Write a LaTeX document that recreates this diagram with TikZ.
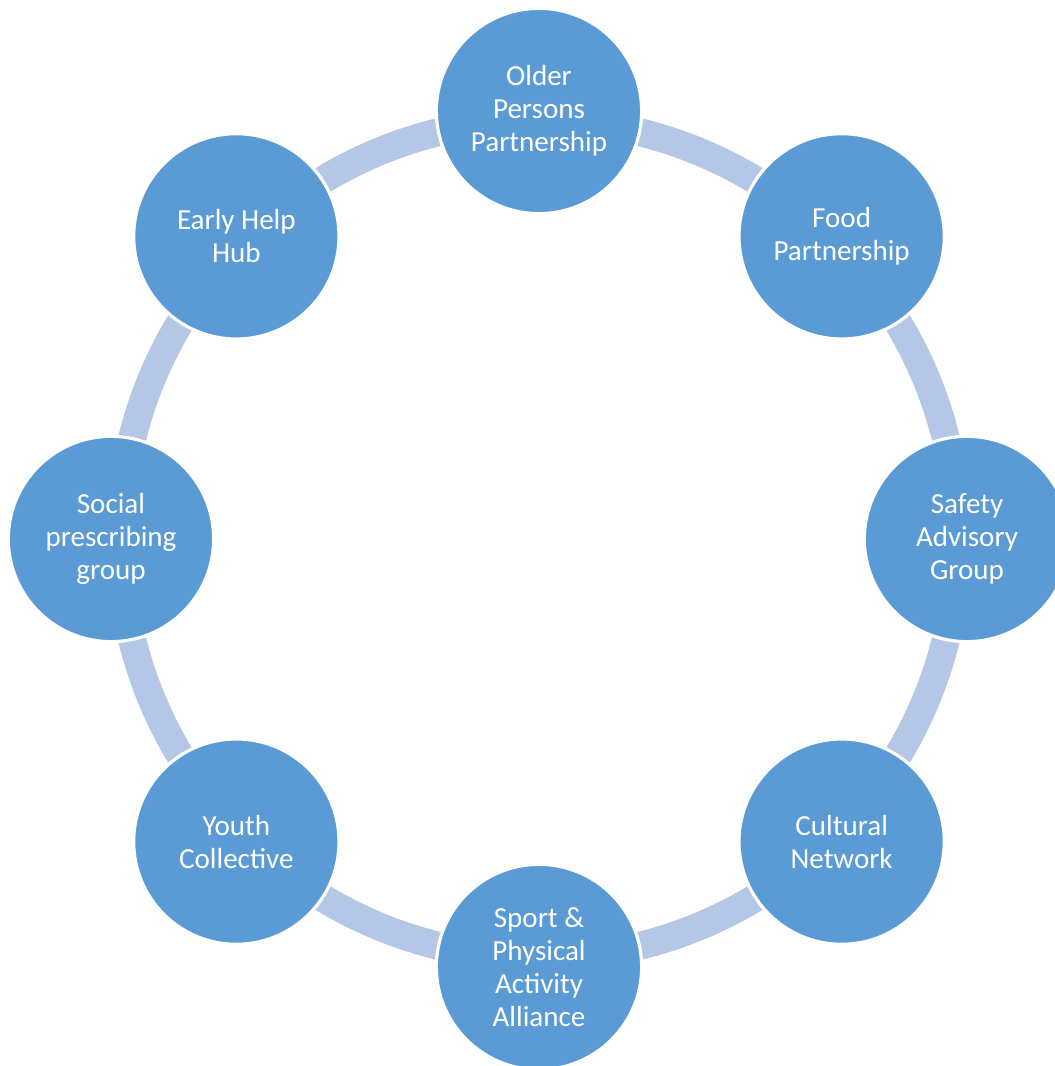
\documentclass[tikz,border=0pt]{standalone}
\usepackage{fontspec}
\setmainfont{Carlito}
\definecolor{hubblue}{HTML}{5B9BD5}
\definecolor{ringblue}{HTML}{B4C7E7}

\begin{document}
\begin{tikzpicture}[x=0.75pt, y=0.75pt,
  every node/.style={circle, minimum size=154pt, inner sep=0pt, outer sep=0pt,
    fill=hubblue, draw=white, line width=2.4pt, text=white, align=center,
    font=\fontsize{21.8}{24.8}\selectfont}]
\useasboundingbox (-539,-527) rectangle (516,539);

\draw[ringblue, line width=21pt] (0,0) circle (419);

\node (older) at (90:428) {Older\\Persons\\Partnership};
\node (food) at (45:428) {Food\\Partnership};
\node (safety) at (0:428) {Safety\\Advisory\\Group};
\node (cultural) at (-45:428) {Cultural\\Network};
\node (sport) at (-90:428) {Sport \&\\Physical\\Activity\\Alliance};
\node (youth) at (-135:428) {Youth\\Collective};
\node (social) at (180:428) {Social\\prescribing\\group};
\node (earlyhelp) at (135:428) {Early Help\\Hub};
\end{tikzpicture}
\end{document}
